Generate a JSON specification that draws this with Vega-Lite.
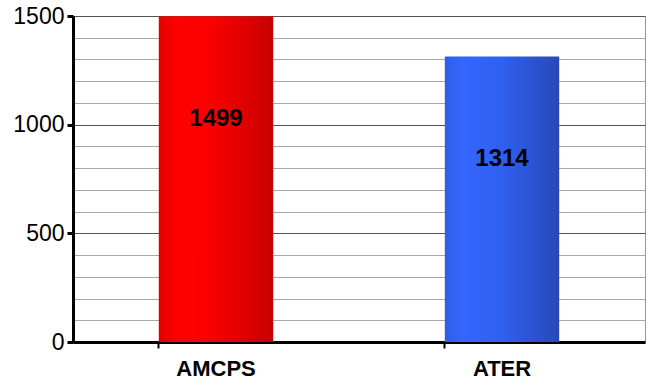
{
  "$schema": "https://vega.github.io/schema/vega-lite/v6.json",
  "width": 572,
  "height": 326,
  "autosize": {"type": "none"},
  "padding": {"left": 73, "top": 16, "right": 3, "bottom": 45},
  "background": "white",
  "config": {
    "view": {"stroke": "#999999", "strokeWidth": 1},
    "font": "Liberation Sans"
  },
  "data": {"values": [
    {"category": "AMCPS", "value": 1499},
    {"category": "ATER", "value": 1314}
  ]},
  "encoding": {
    "x": {
      "field": "category", "type": "nominal", "sort": null,
      "scale": {"paddingInner": 0.6, "paddingOuter": 0.3},
      "axis": {
        "title": null, "labelAngle": 0, "labelFont": "Liberation Sans",
        "labelFontSize": 22, "labelFontWeight": "bold", "labelColor": "black",
        "labelPadding": 10, "domainColor": "black", "domainWidth": 3,
        "tickColor": "black", "tickWidth": 2, "tickSize": 6, "bandPosition": 0
      }
    },
    "y": {
      "field": "value", "type": "quantitative",
      "scale": {"domain": [0, 1500], "nice": false},
      "axis": {
        "title": null,
        "values": [0,100,200,300,400,500,600,700,800,900,1000,1100,1200,1300,1400,1500],
        "format": "d",
        "labelExpr": "datum.value % 500 === 0 ? datum.label : ''",
        "labelFont": "Liberation Sans", "labelFontSize": 23, "labelColor": "black",
        "labelPadding": 3,
        "domainColor": "black", "domainWidth": 3,
        "tickColor": "black", "tickWidth": 3,
        "tickSize": {"condition": {"test": "datum.value % 500 === 0", "value": 6}, "value": 0},
        "grid": true,
        "gridColor": {"condition": {"test": "datum.value % 500 === 0", "value": "#555555"}, "value": "#a8a8a8"},
        "gridWidth": 1
      }
    }
  },
  "layer": [
    {
      "transform": [{"filter": "datum.category === 'AMCPS'"}],
      "mark": {"type": "bar", "color": {"gradient": "linear", "x1": 0, "y1": 0, "x2": 1, "y2": 0, "stops": [
        {"offset": 0, "color": "#e00000"},
        {"offset": 0.15, "color": "#ff0000"},
        {"offset": 0.45, "color": "#fa0000"},
        {"offset": 1, "color": "#c80000"}
      ]}}
    },
    {
      "transform": [{"filter": "datum.category === 'ATER'"}],
      "mark": {"type": "bar", "color": {"gradient": "linear", "x1": 0, "y1": 0, "x2": 1, "y2": 0, "stops": [
        {"offset": 0, "color": "#2f5fe6"},
        {"offset": 0.15, "color": "#3366ff"},
        {"offset": 0.5, "color": "#3060ee"},
        {"offset": 1, "color": "#2848b8"}
      ]}}
    },
    {
      "mark": {"type": "text", "font": "Liberation Sans", "fontSize": 24, "fontWeight": "bold", "color": "black", "baseline": "middle", "dy": 103},
      "encoding": {"text": {"field": "value", "type": "quantitative", "format": "d"}}
    }
  ]
}
